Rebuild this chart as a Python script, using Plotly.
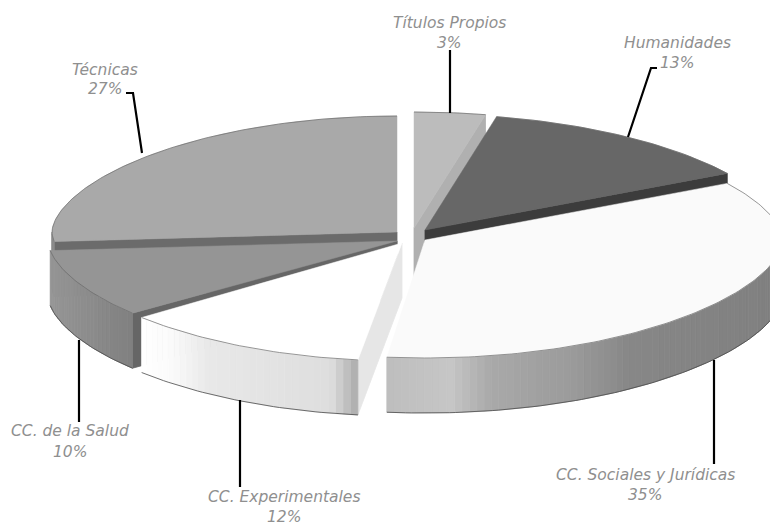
import math
import plotly.graph_objects as go

# Data
labels = ["Títulos Propios", "Humanidades", "CC. Sociales y Jurídicas",
          "CC. Experimentales", "CC. de la Salud", "Técnicas"]
shown_pct = ["3%", "13%", "35%", "12%", "10%", "27%"]
values = [3.2, 12.8, 35.7, 11.6, 9.9, 26.8]

# Look of each slice
top_colors = ["#bcbcbc", "#676767", "#fafafa", "#ffffff", "#959595", "#a9a9a9"]
cut_colors = ["#b0b0b0", "#3c3c3c", "#e6e6e6", "#e6e6e6", "#666666", "#6b6b6b"]
wall_stops = [
    [(0, "#b0b0b0"), (1, "#b0b0b0")],
    [(0, "#3c3c3c"), (1, "#3c3c3c")],
    [(386, "#bdbdbd"), (450, "#c6c6c6"), (490, "#a9a9a9"), (570, "#9b9b9b"), (630, "#878787"), (770, "#808080")],
    [(142, "#ffffff"), (170, "#fbfbfb"), (210, "#e8e8e8"), (330, "#dedede"), (359, "#a8a8a8")],
    [(50, "#969696"), (132, "#808080")],
    [(0, "#8a8a8a"), (1, "#8a8a8a")],
]

# Projection of each exploded slice on the page
apex = [(414, 228), (425, 230), (425, 240), (402, 243), (397, 241), (397, 232)]
radius_x = [358, 358, 358, 351, 349, 345]
start_nudge = [0, 0, 0, 1.1, 1.4, 0]
RY_BACK, RY_FRONT, POWER, DEPTH = 116, 118, 1.15, 55
draw_order = [5, 0, 1, 4, 2, 3]

# Leader lines and label anchors, page pixels
leaders = [
    [(450, 50), (450, 113)],
    [(657, 68), (651, 68), (628, 137)],
    [(714, 360), (714, 464)],
    [(240, 400), (240, 487)],
    [(79, 340), (79, 422)],
    [(126, 93), (133, 93), (142, 153)],
]
label_pos = [(449, 23, 43), (677, 43, 63), (645, 475, 495),
             (284, 497, 516.5), (70, 431, 452), (105, 70, 89)]
TEXT = "#8f8f8f"


def hex2rgb(c):
    return [int(c[i:i + 2], 16) for i in (1, 3, 5)]


def wall_color(stops, x):
    if x <= stops[0][0]:
        return stops[0][1]
    for (x0, c0), (x1, c1) in zip(stops, stops[1:]):
        if x <= x1:
            f = (x - x0) / (x1 - x0)
            a, b = hex2rgb(c0), hex2rgb(c1)
            return "#%02x%02x%02x" % tuple(round(p + (q - p) * f) for p, q in zip(a, b))
    return stops[-1][1]


def point(i, deg):
    r = math.radians(deg)
    c = math.cos(r)
    ry = RY_BACK if c > 0 else RY_FRONT
    return (apex[i][0] + radius_x[i] * math.sin(r),
            apex[i][1] - math.copysign(ry * abs(c) ** POWER, c))


def arc(i, a, b, step=1.0):
    n = max(2, int(abs(b - a) / step) + 1)
    return [point(i, a + (b - a) * k / (n - 1)) for k in range(n)]


def poly(fig, pts, fill, line=None, width=0.8):
    xs = [p[0] for p in pts] + [pts[0][0]]
    ys = [p[1] for p in pts] + [pts[0][1]]
    fig.add_trace(go.Scatter(x=xs, y=ys, mode="lines", fill="toself", fillcolor=fill,
                             line=dict(color=line or fill, width=width),
                             hoverinfo="skip", showlegend=False))


def stroke(fig, pts, color, width, dash=None):
    fig.add_trace(go.Scatter(x=[p[0] for p in pts], y=[p[1] for p in pts], mode="lines",
                             line=dict(color=color, width=width, dash=dash),
                             hoverinfo="skip", showlegend=False))


fig = go.Figure()

total = sum(values)
angles = []
acc = 0
for i, v in enumerate(values):
    angles.append((acc / total * 360 + start_nudge[i], (acc + v) / total * 360))
    acc += v

for i in draw_order:
    t0, t1 = angles[i]
    ax, ay = apex[i]
    # cut faces
    if t0 > 180:
        p = point(i, t0)
        poly(fig, [(ax, ay), p, (p[0], p[1] + DEPTH), (ax, ay + DEPTH)], cut_colors[i])
    if t1 < 180:
        p = point(i, t1)
        poly(fig, [(ax, ay), p, (p[0], p[1] + DEPTH), (ax, ay + DEPTH)], cut_colors[i])
    # curved wall
    w0, w1 = max(t0, 90), min(t1, 270)
    if w1 > w0:
        n = max(1, int((w1 - w0) / 1.2))
        for k in range(n):
            a = w0 + (w1 - w0) * k / n
            b = w0 + (w1 - w0) * (k + 1) / n
            p, q = point(i, a), point(i, b)
            col = wall_color(wall_stops[i], (p[0] + q[0]) / 2)
            poly(fig, [p, q, (q[0], q[1] + DEPTH), (p[0], p[1] + DEPTH)], col)
        stroke(fig, [(x, y + DEPTH) for x, y in arc(i, w0, w1)], "#4a4a4a", 0.8)
    # top surface
    rim = arc(i, t0, t1)
    poly(fig, [(ax, ay)] + rim, top_colors[i], width=0.5)
    stroke(fig, rim, "#6a6a6a", 0.7)

for pts in leaders:
    stroke(fig, pts, "#000000", 2.2)

annotations = []
for name, pct, (x, y1, y2) in zip(labels, shown_pct, label_pos):
    for txt, y in ((name, y1), (pct, y2)):
        annotations.append(dict(x=x, y=y, text=txt, xref="x", yref="y", showarrow=False,
                                xanchor="center", yanchor="middle",
                                font=dict(family="DejaVu Sans", size=15.5, color=TEXT,
                                          style="italic")))

fig.update_layout(
    width=770, height=527, autosize=False, margin=dict(l=0, r=0, t=0, b=0),
    paper_bgcolor="white", plot_bgcolor="white", showlegend=False,
    xaxis=dict(range=[0, 770], visible=False, fixedrange=True),
    yaxis=dict(range=[527, 0], visible=False, fixedrange=True),
    annotations=annotations,
)
fig.write_html("out.html", config=dict(displayModeBar=False),
               post_script="document.body.style.margin='0';document.body.style.overflow='hidden';")
